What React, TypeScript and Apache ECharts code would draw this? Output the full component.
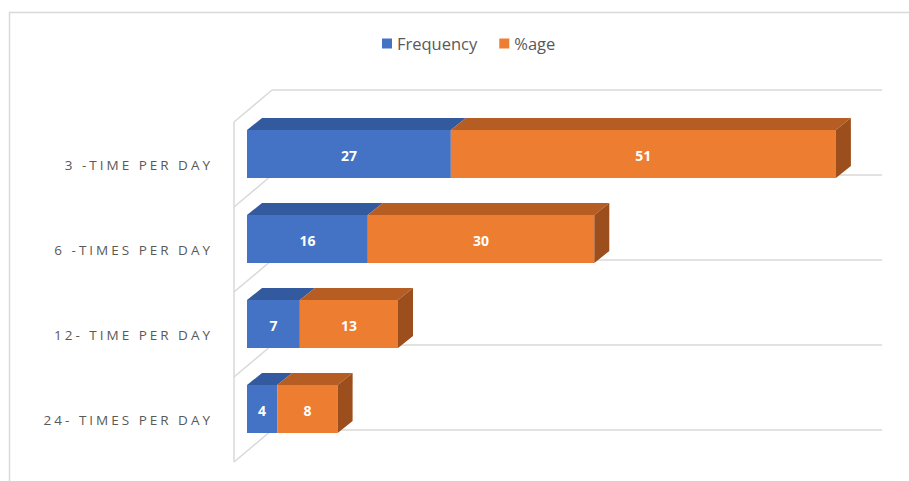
import React, { useEffect, useRef } from "react";
import * as echarts from "echarts";

const categories = ["3 -TIME PER DAY", "6 -TIMES PER DAY", "12- TIME PER DAY", "24- TIMES PER DAY"];
const frequency = [27, 16, 7, 4];
const percentage = [51, 30, 13, 8];
const seriesNames = ["Frequency", "%age"];

const BLUE = "#4472C4";
const BLUE_TOP = "#335A9E";
const BLUE_SIDE = "#2A4A84";
const ORANGE = "#ED7D31";
const ORANGE_TOP = "#B55D22";
const ORANGE_SIDE = "#9C4F1C";
const LABEL_COLOR = "#595958";
const GRID_COLOR = "#D9D9D9";

// layout
const GRID_LEFT = 247;
const GRID_TOP = 111.5;
const GRID_W = 604;
const GRID_H = 340;
const X_MAX = 80;
const BAR_H = 48;
const DX = 15;
const DY = 12;
const WALL_FRONT_X = 234;
const WALL_BACK_X = 272;
const WALL_RIGHT = 882;
const WALL_BACK_SHIFT = -21.5;
const WALL_DY = 32;

function makeRender(fill: string, top: string, side: string, drawSide: boolean) {
  return (params: any, api: any) => {
    const val = api.value(0);
    const cat = api.value(1);
    const base = api.value(2);
    const a = api.coord([base, cat]);
    const b = api.coord([base + val, cat]);
    const x0 = a[0];
    const x1 = b[0];
    const y0 = a[1] - BAR_H / 2;
    const y1 = a[1] + BAR_H / 2;
    const children: any[] = [
      {
        type: "polygon",
        shape: { points: [[x0, y0], [x1, y0], [x1 + DX, y0 - DY], [x0 + DX, y0 - DY]] },
        style: { fill: top },
      },
      {
        type: "rect",
        shape: { x: x0, y: y0, width: x1 - x0, height: BAR_H },
        style: { fill },
      },
    ];
    if (drawSide) {
      children.push({
        type: "polygon",
        shape: { points: [[x1, y0], [x1 + DX, y0 - DY], [x1 + DX, y1 - DY], [x1, y1]] },
        style: { fill: side },
      });
    }
    children.push({
      type: "text",
      style: {
        text: String(val),
        x: (x0 + x1) / 2,
        y: a[1] + 1,
        align: "center",
        verticalAlign: "middle",
        fill: "#FFFFFF",
        font: 'bold 14px "Open Sans"',
      },
    });
    return { type: "group", children };
  };
}

function wallGraphics() {
  const els: any[] = [];
  // outer chart border
  els.push({
    type: "rect",
    shape: { x: 9.5, y: 12.5, width: 1000, height: 1000 },
    style: { fill: "none", stroke: GRID_COLOR, lineWidth: 1.5 },
    silent: true,
  });
  const step = GRID_H / categories.length;
  for (let k = 0; k <= categories.length; k++) {
    const yb = GRID_TOP + k * step + WALL_BACK_SHIFT;
    els.push({
      type: "line",
      shape: { x1: WALL_BACK_X, y1: yb, x2: WALL_RIGHT, y2: yb },
      style: { stroke: GRID_COLOR, lineWidth: 1.5 },
      silent: true,
    });
    els.push({
      type: "line",
      shape: { x1: WALL_BACK_X, y1: yb, x2: WALL_FRONT_X, y2: yb + WALL_DY },
      style: { stroke: GRID_COLOR, lineWidth: 1.5 },
      silent: true,
    });
  }
  els.push({
    type: "line",
    shape: {
      x1: WALL_FRONT_X,
      y1: GRID_TOP + WALL_BACK_SHIFT + WALL_DY,
      x2: WALL_FRONT_X,
      y2: GRID_TOP + GRID_H + WALL_BACK_SHIFT + WALL_DY,
    },
    style: { stroke: GRID_COLOR, lineWidth: 1.5 },
    silent: true,
  });
  return els;
}

export default function App() {
  const ref = useRef<HTMLDivElement>(null);
  useEffect(() => {
    if (!ref.current) return;
    const chart = echarts.init(ref.current, null, { renderer: "svg" });
    chart.setOption({
      animation: false,
      color: [BLUE, ORANGE],
      backgroundColor: "#FFFFFF",
      legend: {
        data: seriesNames,
        top: 30,
        left: 377,
        icon: "rect",
        itemWidth: 10,
        itemHeight: 10,
        itemGap: 22,
        textStyle: { color: "#595959", fontSize: 16.5, fontFamily: "Open Sans" },
      },
      graphic: wallGraphics(),
      grid: { left: GRID_LEFT, top: GRID_TOP, width: GRID_W, height: GRID_H, containLabel: false },
      xAxis: {
        type: "value",
        min: 0,
        max: X_MAX,
        show: false,
      },
      yAxis: {
        type: "category",
        data: categories,
        inverse: true,
        axisLine: { show: false },
        axisTick: { show: false },
        splitLine: { show: false },
        axisLabel: {
          margin: 34,
          color: LABEL_COLOR,
          fontSize: 13.5,
          fontFamily: "Open Sans",
          verticalAlign: "top",
          lineHeight: 22,
        },
      },
      series: [
        {
          name: seriesNames[0],
          type: "custom",
          itemStyle: { color: BLUE },
          encode: { x: 0, y: 1 },
          data: frequency.map((v, i) => [v, i, 0]),
          renderItem: makeRender(BLUE, BLUE_TOP, BLUE_SIDE, false),
          z: 2,
        },
        {
          name: seriesNames[1],
          type: "custom",
          itemStyle: { color: ORANGE },
          encode: { x: 0, y: 1 },
          data: percentage.map((v, i) => [v, i, frequency[i]]),
          renderItem: makeRender(ORANGE, ORANGE_TOP, ORANGE_SIDE, true),
          z: 3,
        },
      ],
    });
    return () => chart.dispose();
  }, []);
  return (
    <>
      <style>{`.chartbox text[fill="${LABEL_COLOR}"], .chartbox text[style*="${LABEL_COLOR}"] { letter-spacing: 3px; }`}</style>
      <div
        ref={ref}
        className="chartbox"
        style={{ position: "absolute", left: 0, top: 0, width: 909, height: 481 }}
      />
    </>
  );
}
